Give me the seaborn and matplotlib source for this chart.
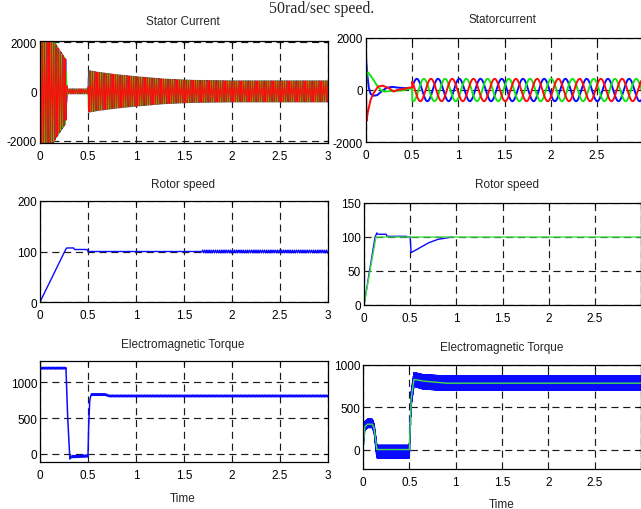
import numpy as np
import pandas as pd
import matplotlib
matplotlib.use("Agg")
import matplotlib.pyplot as plt
import seaborn as sns

# ---------------- data ----------------
main_title = "50rad/sec speed."
titles = ["Stator Current", "Statorcurrent", "Rotor speed", "Rotor speed",
          "Electromagnetic Torque", "Electromagnetic Torque"]
x_label = "Time"
x_ticks = [0, 0.5, 1, 1.5, 2, 2.5, 3]
x_labels_left = ["0", "0.5", "1", "1.5", "2", "2.5", "3"]
x_labels_right = ["0", "0.5", "1", "1.5", "2", "2.5", ""]
phase_names = ["blue", "green", "red"]

# Left stator current: amplitude envelope of the three phase currents
sc_left_env_t = [0, 0.02, 0.12, 0.2, 0.27, 0.28, 0.29, 0.5, 0.505, 0.6, 0.8, 1.0, 1.3, 1.6, 2.0, 3.0]
sc_left_env_a = [2600, 2600, 2200, 1700, 1300, 300, 100, 100, 850, 780, 680, 600, 500, 450, 430, 430]
sc_left_freq = 42.0

# Right stator current: start-up transients (0 - 0.5 s)
sc_right_blue_t = [0, 0.01, 0.03, 0.05, 0.08, 0.12, 0.17, 0.22, 0.28, 0.35, 0.42, 0.5]
sc_right_blue_v = [1300, 700, 100, -150, -220, -200, -50, 80, 120, 90, 70, 80]
sc_right_green_t = [0, 0.005, 0.02, 0.05, 0.08, 0.11, 0.16, 0.2, 0.27, 0.38, 0.45, 0.5]
sc_right_green_v = [0, 550, 680, 550, 400, 220, 0, -60, -40, -25, 30, 60]
sc_right_red_t = [0, 0.005, 0.02, 0.05, 0.08, 0.13, 0.18, 0.25, 0.3, 0.34, 0.41, 0.47, 0.5]
sc_right_red_v = [0, -1200, -850, -380, -130, 130, 170, 65, -60, 0, 40, 90, 100]
# Right stator current: steady state after 0.5 s
sc_right_amp = 430
sc_right_period = 0.23
sc_right_first_peak = 0.55

# Left rotor speed
sp_left_t = [0, 0.27, 0.28, 0.35, 0.36, 0.49, 0.5, 3.0]
sp_left_v = [0, 105, 107, 107, 104, 104, 100, 100]
sp_left_ripple_t = [0, 1.68, 1.69, 3.0]
sp_left_ripple_a = [0, 0, 3, 3]

# Right rotor speed: reference (green) and actual (blue)
sp_ref_t = [0, 0.13, 3.0]
sp_ref_v = [0, 100, 100]
sp_act_t = [0, 0.12, 0.14, 0.15, 0.24, 0.25, 0.46, 0.47, 0.5, 0.51, 0.59, 0.7, 0.8, 0.91, 0.95]
sp_act_v = [0, 100, 106, 104, 104, 101, 101, 100, 100, 77, 83, 91.5, 96.5, 99, 100]

# Left electromagnetic torque
tq_left_t = [0, 0.004, 0.27, 0.285, 0.31, 0.33, 0.5, 0.505, 0.515, 0.53, 0.68, 0.72, 3.0]
tq_left_v = [300, 1200, 1200, 600, -60, -40, -30, 300, 700, 830, 830, 810, 810]
tq_left_ripple_t = [0, 0.26, 0.29, 0.31, 0.5, 0.53, 3.0]
tq_left_ripple_a = [12, 12, 0, 15, 15, 12, 12]

# Right electromagnetic torque: mean (green) and band of actual (blue)
tq_ref_t = [0, 0.02, 0.05, 0.1, 0.12, 0.15, 0.5, 0.52, 0.55, 0.65, 0.9, 3.0]
tq_ref_v = [0, 270, 300, 300, 250, 0, 0, 600, 830, 810, 785, 785]
tq_act_t = [0, 0.02, 0.05, 0.1, 0.12, 0.15, 0.5, 0.52, 0.55, 0.65, 0.9, 3.0]
tq_act_v = [0, 280, 310, 310, 250, -25, -25, 600, 830, 800, 785, 785]
tq_band_t = [0, 0.02, 0.12, 0.15, 0.5, 0.52, 0.65, 3.0]
tq_band_a = [0, 50, 50, 75, 75, 80, 85, 85]

# ---------------- style ----------------
sns.set_theme(style="white")
plt.rcParams["font.family"] = ["Liberation Sans Narrow", "Liberation Sans", "DejaVu Sans"]
plt.rcParams["axes.linewidth"] = 0.9
plt.rcParams["axes.edgecolor"] = "black"

BLUE = "#0a0aff"
RED = "#ff0a0a"
GREEN = "#12e612"
LGREEN = "#44dd44"
pal = {"blue": BLUE, "green": GREEN, "red": RED}

fig = plt.figure(figsize=(6.41, 5.10), dpi=100)
fig.patch.set_facecolor("white")


def add_ax(l, t, r, b):
    return fig.add_axes([l / 641, 1 - b / 510, (r - l) / 641, (b - t) / 510])


def style(ax, ylim, yticks, ylabels, xlabels):
    ax.set_xlim(0, 3)
    ax.set_ylim(*ylim)
    ax.set_xticks(x_ticks)
    ax.set_xticklabels(xlabels)
    ax.set_yticks(yticks)
    ax.set_yticklabels(ylabels)
    ax.set_xlabel("")
    ax.set_ylabel("")
    ax.set_axisbelow(True)
    ax.grid(True, color="#1a1a1a", ls=(0, (6, 4)), lw=0.85)
    ax.tick_params(direction="in", top=True, right=True, length=3, width=0.8,
                   labelsize=8.5, colors="black", pad=2)
    ax.tick_params(axis="x", pad=5)
    for s in ax.spines.values():
        s.set_visible(True)
        s.set_color("black")
        s.set_linewidth(0.9)


# ---- Top-left: stator current (dense) ----
ax1 = add_ax(40, 42, 328, 144)
t = np.linspace(0, 3, 12000)
env = np.interp(t, sc_left_env_t, sc_left_env_a)
rows = []
for k, ph in enumerate(phase_names):
    rows.append(pd.DataFrame({"t": t, "v": env * np.sin(2 * np.pi * sc_left_freq * t - 2 * np.pi * k / 3),
                              "phase": ph}))
df1 = pd.concat(rows, ignore_index=True)
sns.lineplot(data=df1, x="t", y="v", hue="phase", hue_order=phase_names, palette=pal,
             estimator=None, sort=False, legend=False, lw=0.75, ax=ax1)
style(ax1, (-2100, 2050), [-2000, 0, 2000], ["-2000", "0", "2000"], x_labels_left)

# ---- Top-right: stator current ----
ax2 = add_ax(366, 39, 643, 143)
tr = {"blue": (sc_right_blue_t, sc_right_blue_v),
      "green": (sc_right_green_t, sc_right_green_v),
      "red": (sc_right_red_t, sc_right_red_v)}
ts = np.linspace(0.5, 3, 2500)
rows = []
for k, ph in enumerate(phase_names):
    tt0, vv0 = tr[ph]
    peak = sc_right_first_peak + k * sc_right_period / 3
    vs = sc_right_amp * np.cos(2 * np.pi * (ts - peak) / sc_right_period)
    rows.append(pd.DataFrame({"t": np.concatenate([tt0, ts]),
                              "v": np.concatenate([vv0, vs]), "phase": ph}))
df2 = pd.concat(rows, ignore_index=True)
sns.lineplot(data=df2, x="t", y="v", hue="phase", hue_order=phase_names, palette=pal,
             estimator=None, sort=False, legend=False, lw=1.4, ax=ax2)
style(ax2, (-2000, 2000), [-2000, 0, 2000], ["-2000", "0", "2000"], x_labels_right)

# ---- Middle-left: rotor speed ----
ax3 = add_ax(40, 202, 328, 303)
df3 = pd.DataFrame({"t": sp_left_t, "v": sp_left_v})
sns.lineplot(data=df3, x="t", y="v", estimator=None, sort=False, color=BLUE, lw=1.0, ax=ax3)
tr3 = np.linspace(1.68, 3, 2500)
rip = np.interp(tr3, sp_left_ripple_t, sp_left_ripple_a)
df3b = pd.DataFrame({"t": tr3, "v": 100 + rip * np.sin(2 * np.pi * 45 * tr3)})
sns.lineplot(data=df3b, x="t", y="v", estimator=None, sort=False, color=BLUE, lw=0.8, ax=ax3)
style(ax3, (0, 200), [0, 100, 200], ["0", "100", "200"], x_labels_left)

# ---- Middle-right: rotor speed ----
ax4 = add_ax(364, 204, 641, 306)
df4a = pd.DataFrame({"t": sp_act_t, "v": sp_act_v})
df4b = pd.DataFrame({"t": sp_ref_t, "v": sp_ref_v})
sns.lineplot(data=df4a, x="t", y="v", estimator=None, sort=False, color=BLUE, lw=1.0, ax=ax4)
sns.lineplot(data=df4b, x="t", y="v", estimator=None, sort=False, color=LGREEN, lw=1.0, ax=ax4)
style(ax4, (0, 150), [0, 50, 100, 150], ["0", "50", "100", "150"], x_labels_right)

# ---- Bottom-left: torque ----
ax5 = add_ax(40, 362, 328, 463)
t5 = np.linspace(0, 3, 6000)
base5 = np.interp(t5, tq_left_t, tq_left_v)
rip5 = np.interp(t5, tq_left_ripple_t, tq_left_ripple_a)
df5 = pd.DataFrame({"t": t5, "v": base5 + rip5 * np.sin(2 * np.pi * 60 * t5)})
sns.lineplot(data=df5, x="t", y="v", estimator=None, sort=False, color=BLUE, lw=1.1, ax=ax5)
style(ax5, (-115, 1300), [0, 500, 1000], ["0", "500", "1000"], x_labels_left)

# ---- Bottom-right: torque ----
ax6 = add_ax(363, 366, 641, 470)
t6 = np.linspace(0, 3, 16000)
base6 = np.interp(t6, tq_act_t, tq_act_v)
band6 = np.interp(t6, tq_band_t, tq_band_a)
df6 = pd.DataFrame({"t": t6, "v": base6 + band6 * np.sin(2 * np.pi * 300 * t6)})
sns.lineplot(data=df6, x="t", y="v", estimator=None, sort=False, color=BLUE, lw=1.0, ax=ax6)
df6b = pd.DataFrame({"t": tq_ref_t, "v": tq_ref_v})
sns.lineplot(data=df6b, x="t", y="v", estimator=None, sort=False, color=LGREEN, lw=1.0, ax=ax6)
style(ax6, (-230, 1000), [0, 500, 1000], ["0", "500", "1000"], x_labels_right)

# ---- titles / labels ----
def ftext(x, y, s, **kw):
    fig.text(x / 641, 1 - y / 510, s, ha="center", va="center", **kw)

ftext(322, 9, main_title, family=["Liberation Serif", "DejaVu Serif"], fontsize=11.5)
ftext(183, 22, titles[0], fontsize=8.5)
ftext(502, 20, titles[1], fontsize=8.5)
ftext(183, 185, titles[2], fontsize=8.5)
ftext(507, 185, titles[3], fontsize=8.5)
ftext(183, 345, titles[4], fontsize=8.5)
ftext(502, 348, titles[5], fontsize=8.5)
ftext(183, 499, x_label, fontsize=8.5)
ftext(502, 505, x_label, fontsize=8.5)

fig.savefig("out.png", dpi=100, facecolor="white")
